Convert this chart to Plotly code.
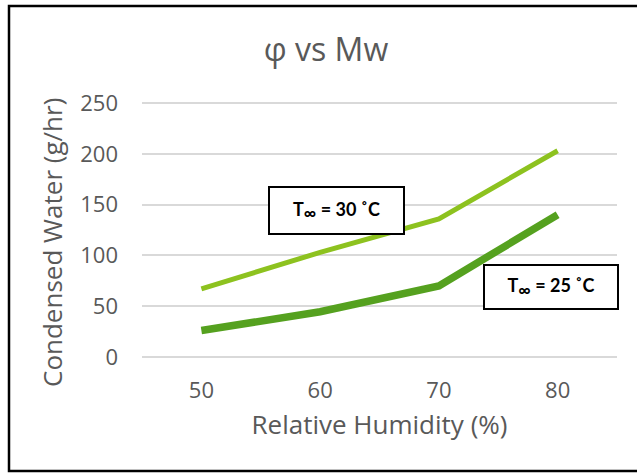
import plotly.graph_objects as go

# Relative humidity (%) on the x axis
humidity = [50, 60, 70, 80]
# Condensed water (g/hr) for each ambient temperature
water_30c = [67, 103, 136, 203]
water_25c = [26, 44.5, 70, 140]

tick_vals_y = [0, 50, 100, 150, 200, 250]

W, H = 637, 476
L, R, T, B = 142, 20, 101, 117

text_gray = "#595959"
font_main = "Open Sans"

fig = go.Figure()

fig.add_trace(go.Scatter(
    x=humidity, y=water_30c, mode="lines",
    line=dict(color="#8dc21f", width=5),
    name="T∞ = 30 ˚C", showlegend=False,
))
fig.add_trace(go.Scatter(
    x=humidity, y=water_25c, mode="lines",
    line=dict(color="#55a11f", width=7.5),
    name="T∞ = 25 ˚C", showlegend=False,
))

# helpers: pixel position -> paper coords (paper spans the plot area)
pw, ph = W - L - R, H - T - B
def px_to_paper_x(px):
    return (px - L) / pw
def px_to_paper_y(py):
    return (H - B - py) / ph

# outer frame around the whole chart
fig.add_shape(
    type="rect", xref="paper", yref="paper",
    x0=px_to_paper_x(9), x1=px_to_paper_x(660),
    y0=px_to_paper_y(471), y1=px_to_paper_y(6),
    line=dict(color="black", width=2.5), fillcolor="rgba(0,0,0,0)",
    layer="above",
)

# y-axis title, placed as a rotated annotation
fig.add_annotation(
    xref="paper", yref="paper",
    x=px_to_paper_x(52), y=px_to_paper_y(243),
    text="Condensed Water (g/hr)", textangle=-90, showarrow=False,
    font=dict(family=font_main, size=26, color=text_gray),
    xanchor="center", yanchor="middle",
)

box_font = dict(family="Lato", size=18, color="black")
sub_inf = "<sub><span style='font-size:17px'>∞</span></sub>"
fig.add_annotation(
    xref="paper", yref="paper",
    x=px_to_paper_x(336.5), y=px_to_paper_y(210.5),
    text=f"<b>T{sub_inf} = 30 ˚C</b>", showarrow=False,
    font=box_font, bgcolor="white", bordercolor="black", borderwidth=2,
    width=131, height=43, xanchor="center", yanchor="middle",
)
fig.add_annotation(
    xref="paper", yref="paper",
    x=px_to_paper_x(551), y=px_to_paper_y(286.5),
    text=f"<b>T{sub_inf} = 25 ˚C</b>", showarrow=False,
    font=box_font, bgcolor="white", bordercolor="black", borderwidth=2,
    width=130, height=40, xanchor="center", yanchor="middle",
)

fig.update_layout(
    width=W, height=H,
    margin=dict(l=L, r=R, t=T, b=B),
    paper_bgcolor="white", plot_bgcolor="white",
    title=dict(
        text="φ vs Mw", x=326 / W, xanchor="center",
        y=1 - 50 / H, yanchor="middle",
        font=dict(family=font_main, size=32, color=text_gray),
    ),
    xaxis=dict(
        range=[45, 85], tickvals=humidity, ticktext=[str(v) for v in humidity],
        showgrid=False, zeroline=False, showline=False, ticks="",
        ticklabelstandoff=16,
        tickfont=dict(family=font_main, size=22, color=text_gray),
        title=dict(text="Relative Humidity (%)", standoff=12,
                   font=dict(family=font_main, size=26, color=text_gray)),
    ),
    yaxis=dict(
        range=[-2, 252], tickvals=tick_vals_y,
        showgrid=True, gridcolor="#d9d9d9", gridwidth=1.5,
        zeroline=False, showline=False, ticks="",
        ticklabelstandoff=23,
        tickfont=dict(family=font_main, size=22, color=text_gray),
    ),
)

fig.write_html("out.html")
